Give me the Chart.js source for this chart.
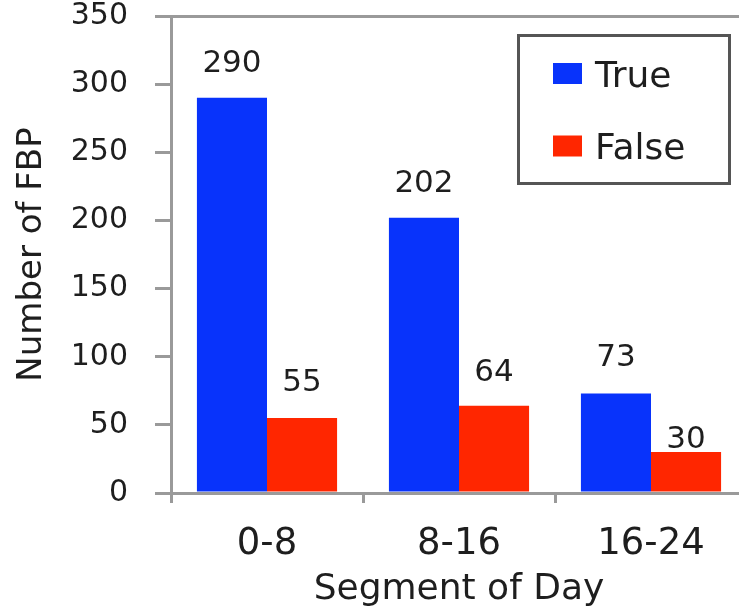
<!DOCTYPE html>
<html>
<head>
<meta charset="utf-8">
<script src="https://cdn.jsdelivr.net/npm/chart.js@4"></script>
<style>
  html, body { margin: 0; padding: 0; background: #fff; overflow: hidden; }
</style>
</head>
<body>
<canvas id="myChart" width="760" height="612"></canvas>
<script>
// data
const segments = ['0-8', '8-16', '16-24'];
const trueCounts = [290, 202, 73];
const falseCounts = [55, 64, 30];
const yTicks = [0, 50, 100, 150, 200, 250, 300, 350];

const axisGray = '#9a9a9a';
const textColor = '#1e1e1e';
const font = 'DejaVu Sans';

// how far above each bar top the value label sits (the "30" label sits low in the original)
const labelLift = [[34, 34, 36], [35, 33, 12]];

const valueLabels = {
	id: 'valueLabels',
	afterDatasetsDraw(chart) {
		const ctx = chart.ctx;
		ctx.save();
		ctx.font = '31px "' + font + '"';
		ctx.fillStyle = textColor;
		ctx.textAlign = 'center';
		ctx.textBaseline = 'middle';
		chart.data.datasets.forEach((ds, i) => {
			const meta = chart.getDatasetMeta(i);
			meta.data.forEach((bar, j) => {
				ctx.fillText(String(ds.data[j]), bar.x, bar.y - labelLift[i][j]);
			});
		});
		ctx.restore();
	}
};

// boxed legend in the top right corner
const boxLegend = {
	id: 'boxLegend',
	afterDraw(chart) {
		const ctx = chart.ctx;
		ctx.save();
		ctx.strokeStyle = '#555';
		ctx.lineWidth = 3;
		ctx.strokeRect(518.5, 35.5, 211, 148);
		ctx.font = '36px "' + font + '"';
		ctx.textAlign = 'left';
		ctx.textBaseline = 'middle';
		const rows = [73.5, 146];
		chart.data.datasets.forEach((ds, i) => {
			ctx.fillStyle = ds.backgroundColor;
			ctx.fillRect(553, rows[i] - 10.5, 29, 21);
			ctx.fillStyle = textColor;
			ctx.fillText(ds.label, 595, rows[i] + 4);
		});
		ctx.restore();
	}
};

const ctx = document.getElementById('myChart');

const myChart = new Chart(ctx, {
	type: 'bar',
	data: {
		labels: segments,
		datasets: [{
			label: 'True',
			data: trueCounts,
			backgroundColor: '#0833fb',
			barPercentage: 1,
			categoryPercentage: 0.73
		}, {
			label: 'False',
			data: falseCounts,
			backgroundColor: '#ff2600',
			barPercentage: 1,
			categoryPercentage: 0.73
		}]
	},
	options: {
		responsive: false,
		animation: false,
		devicePixelRatio: 1,
		layout: {
			padding: { top: 16, right: 13, left: 0, bottom: 0 }
		},
		plugins: {
			legend: { display: false },
			tooltip: { enabled: false }
		},
		scales: {
			y: {
				min: 0,
				max: 350,
				afterBuildTicks: (scale) => {
					scale.ticks = yTicks.map(v => ({ value: v }));
				},
				afterFit: (scale) => {
					scale.width = 171;
					scale.paddingTop = 0;
					scale.paddingBottom = 0;
				},
				grid: {
					drawOnChartArea: true,
					color: (c) => (c.tick && c.tick.value === 350 ? axisGray : 'rgba(0,0,0,0)'),
					tickColor: axisGray,
					tickLength: 16,
					lineWidth: 3
				},
				border: { display: true, color: axisGray, width: 3 },
				ticks: {
					color: textColor,
					padding: 27,
					font: { family: font, size: 30 }
				},
				title: {
					display: true,
					text: 'Number of FBP',
					color: textColor,
					font: { family: font, size: 34 },
					padding: { top: 12, bottom: 0 }
				}
			},
			x: {
				afterFit: (scale) => {
					scale.height = 119;
					scale.paddingLeft = 0;
					scale.paddingRight = 0;
				},
				grid: {
					offset: true,
					drawOnChartArea: false,
					tickColor: axisGray,
					tickLength: 10,
					lineWidth: 3
				},
				border: { display: true, color: axisGray, width: 3 },
				ticks: {
					color: textColor,
					padding: 19,
					maxRotation: 0,
					font: { family: font, size: 37 }
				},
				title: {
					display: true,
					text: 'Segment of Day',
					color: textColor,
					font: { family: font, size: 36 },
					padding: { top: 0, bottom: 1 }
				}
			}
		}
	},
	plugins: [valueLabels, boxLegend]
});
</script>
</body>
</html>
